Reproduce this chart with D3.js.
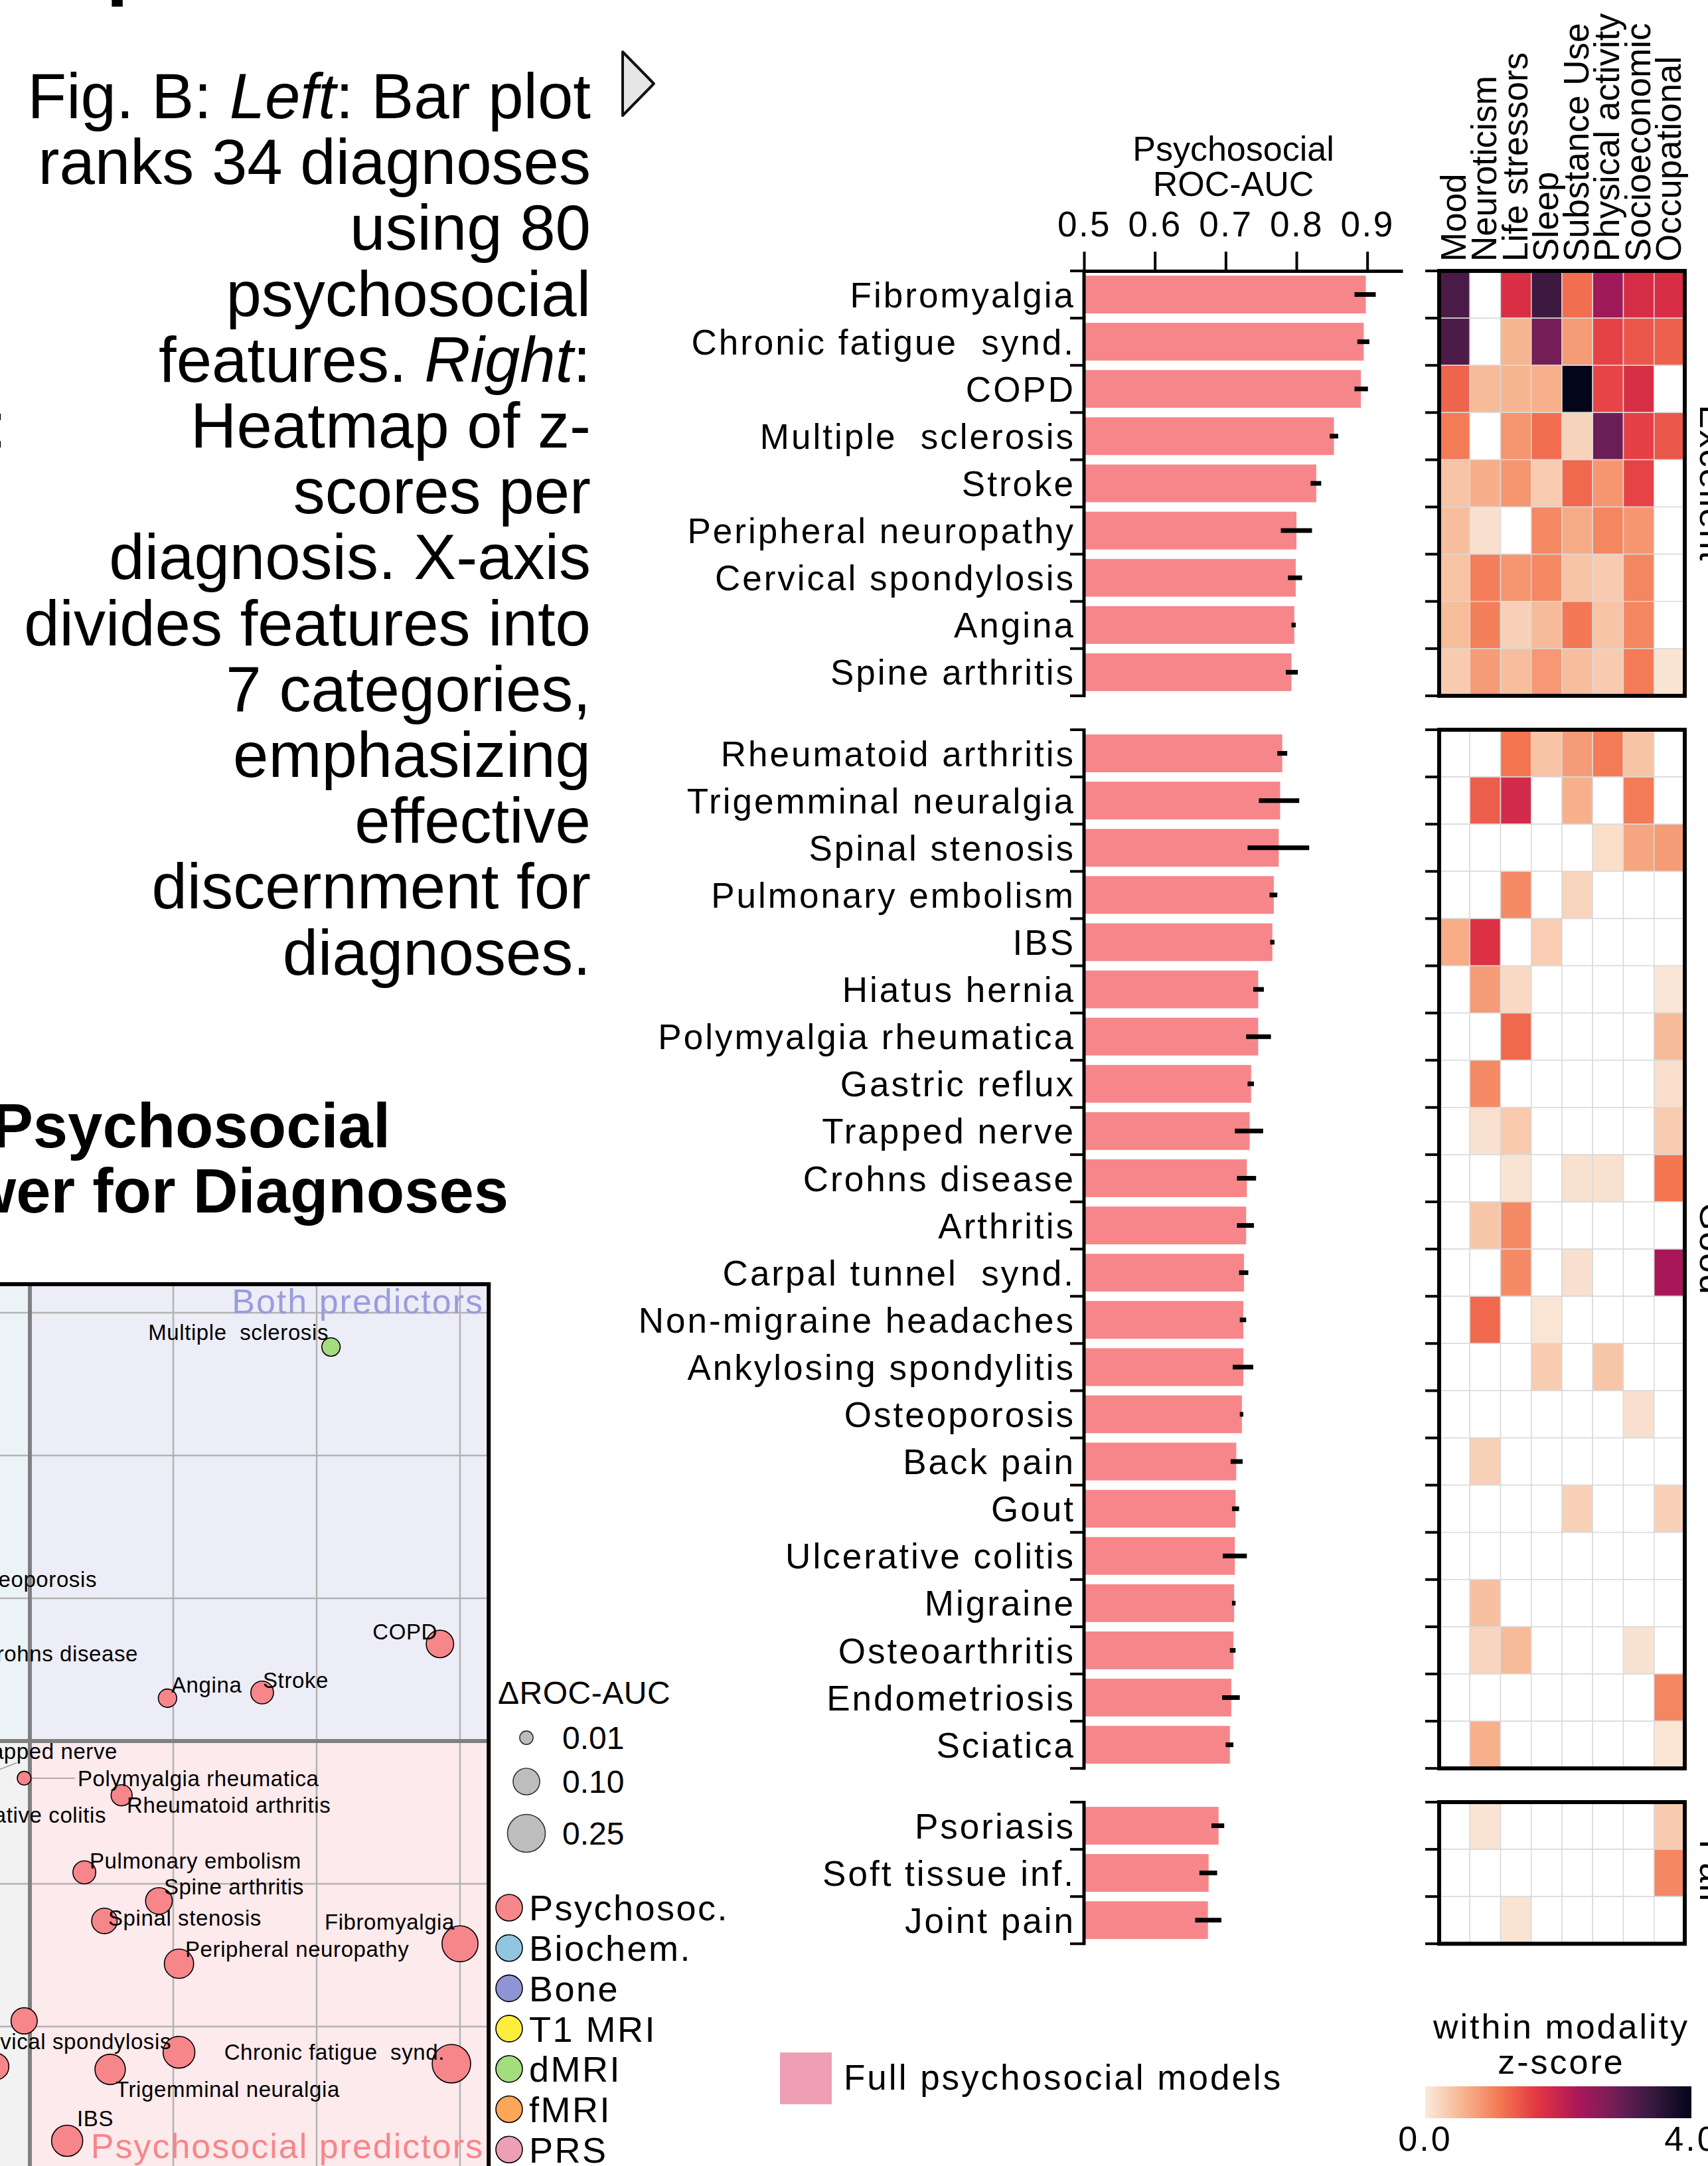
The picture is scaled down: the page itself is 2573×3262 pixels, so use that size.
<!DOCTYPE html>
<html><head><meta charset="utf-8">
<script src="https://cdn.jsdelivr.net/npm/d3@7"></script>
<style>
html,body{margin:0;padding:0;background:#fff;}
svg{display:block;}
text{font-family:'Liberation Sans',Arial,Helvetica,sans-serif;white-space:pre;}
</style></head>
<body>
<svg id="chart" width="2573" height="3262"></svg>
<script>
// ---------------- DATA ----------------
const groupNames = ["Excellent", "Good", "Fair"];
const group1 = ["Fibromyalgia","Chronic fatigue  synd.","COPD","Multiple  sclerosis","Stroke","Peripheral neuropathy","Cervical spondylosis","Angina","Spine arthritis"];
const group2 = ["Rheumatoid arthritis","Trigemminal neuralgia","Spinal stenosis","Pulmonary embolism","IBS","Hiatus hernia","Polymyalgia rheumatica","Gastric reflux","Trapped nerve","Crohns disease","Arthritis","Carpal tunnel  synd.","Non-migraine headaches","Ankylosing spondylitis","Osteoporosis","Back pain","Gout","Ulcerative colitis","Migraine","Osteoarthritis","Endometriosis","Sciatica"];
const group3 = ["Psoriasis","Soft tissue inf.","Joint pain"];

const auc1 = [0.898,0.895,0.891,0.853,0.828,0.800,0.799,0.797,0.793];
const lo1  = [0.882,0.886,0.882,0.847,0.820,0.778,0.788,0.793,0.785];
const hi1  = [0.912,0.903,0.901,0.859,0.835,0.822,0.808,0.799,0.802];
const auc2 = [0.780,0.777,0.775,0.768,0.766,0.746,0.746,0.736,0.734,0.730,0.729,0.726,0.725,0.725,0.723,0.715,0.714,0.713,0.712,0.711,0.708,0.706];
const lo2  = [0.773,0.747,0.731,0.762,0.763,0.739,0.729,0.731,0.713,0.716,0.716,0.719,0.720,0.710,0.720,0.707,0.709,0.696,0.709,0.706,0.695,0.700];
const hi2  = [0.787,0.804,0.818,0.773,0.769,0.754,0.764,0.740,0.753,0.743,0.740,0.732,0.729,0.739,0.725,0.724,0.719,0.730,0.714,0.714,0.720,0.711];
const auc3 = [0.690,0.676,0.675];
const lo3  = [0.680,0.663,0.657];
const hi3  = [0.698,0.688,0.694];

const xTicks = [0.5,0.6,0.7,0.8,0.9];

const featureCats = ["Mood","Neuroticism","Life stressors","Sleep","Substance Use","Physical activity","Socioeconomic","Occupational"];
const _ = null;
const z1 = [
 [3.22,_,1.80,3.34,1.20,2.41,1.84,1.82],
 [3.20,_,0.55,2.80,0.80,1.59,1.41,1.33],
 [1.30,0.50,0.55,0.60,4.00,1.57,1.80,_],
 [1.10,_,0.85,1.20,0.25,2.91,1.60,1.41],
 [0.40,0.62,0.85,0.32,1.25,0.85,1.58,_],
 [0.47,0.12,_,0.97,0.65,1.00,0.85,_],
 [0.42,1.07,0.85,0.97,0.40,0.33,1.00,_],
 [0.48,1.05,0.28,0.50,1.12,0.40,1.00,_],
 [0.33,0.80,0.47,0.83,0.47,0.33,1.10,0.08]
];
const z2 = [
 [_,_,1.14,0.40,0.80,1.10,0.40,_],
 [_,1.35,1.88,_,0.60,_,1.10,_],
 [_,_,_,_,_,0.14,0.70,0.80],
 [_,_,0.95,_,0.24,_,_,_],
 [0.64,1.77,_,0.31,_,_,_,_],
 [_,0.80,0.19,_,_,_,_,0.05],
 [_,_,1.25,_,_,_,_,0.50],
 [_,0.95,_,_,_,_,_,0.13],
 [_,0.10,0.35,_,_,_,_,0.32],
 [_,_,0.08,_,0.10,0.10,_,1.14],
 [_,0.38,0.95,_,_,_,_,_],
 [_,_,0.95,_,0.12,_,_,2.33],
 [_,1.25,_,0.06,_,_,_,_],
 [_,_,_,0.32,_,0.38,_,_],
 [_,_,_,_,_,_,0.11,_],
 [_,0.28,_,_,_,_,_,_],
 [_,_,_,_,0.27,_,_,0.27],
 [_,_,_,_,_,_,_,_],
 [_,0.45,_,_,_,_,_,_],
 [_,0.23,0.50,_,_,_,0.09,_],
 [_,_,_,_,_,_,_,1.00],
 [_,0.60,_,_,_,_,_,0.06]
];
const z3 = [
 [_,0.08,_,_,_,_,_,0.33],
 [_,_,_,_,_,_,_,0.98],
 [_,_,0.08,_,_,_,_,_]
];
const zDomain = [0, 4];
const rocketStops = [0, 0.571, 1.143, 1.714, 2.286, 2.857, 3.429, 4];
const rocketColors = ["#faebdd","#f6b48f","#f37651","#e13342","#ad1759","#701f57","#35193e","#03051a"];

// scatter: psychosocial ROC-AUC vs best non-psychosocial ROC-AUC
const scNames = ["Multiple  sclerosis","COPD","Stroke","Angina","Polymyalgia rheumatica","Rheumatoid arthritis","Pulmonary embolism","Spine arthritis","Spinal stenosis","Fibromyalgia","Peripheral neuropathy","Hiatus hernia","Cervical spondylosis","Gastric reflux","Chronic fatigue  synd.","Trigemminal neuralgia","IBS","Osteoporosis","Crohns disease","Trapped nerve","Ulcerative colitis"];
const scPsych = [0.855,0.893,0.831,0.798,0.748,0.782,0.769,0.795,0.776,0.900,0.802,0.748,0.802,0.738,0.897,0.778,0.763,0.723,0.730,0.734,0.713];
const scOther = [0.888,0.784,0.767,0.765,0.737,0.731,0.704,0.694,0.687,0.679,0.672,0.652,0.641,0.636,0.637,0.635,0.610,0.800,0.780,0.738,0.730];
const scModality = ["dMRI","Psychosoc.","Psychosoc.","Psychosoc.","Psychosoc.","Psychosoc.","Psychosoc.","Psychosoc.","Psychosoc.","Psychosoc.","Psychosoc.","Psychosoc.","Psychosoc.","Psychosoc.","Psychosoc.","Psychosoc.","Psychosoc.","Psychosoc.","Psychosoc.","Psychosoc.","Psychosoc."];
const modalities = ["Psychosoc.","Biochem.","Bone","T1 MRI","dMRI","fMRI","PRS"];
const modalityColors = ["#f7868a","#92c5de","#8f94d4","#fdee3c","#a3dd7e","#fca757","#ee9fb6"];
const sizeLegendValues = [0.01, 0.10, 0.25];
const sizeLegendLabels = ["0.01","0.10","0.25"];
const scGrid = [0.65,0.70,0.80,0.85,0.90];
const scThreshold = 0.75;

const captionLines = [
 [["Fig. B: ",false],["Left",true],[": Bar plot",false]],
 [["ranks 34 diagnoses",false]],
 [["using 80",false]],
 [["psychosocial",false]],
 [["features. ",false],["Right",true],[":",false]],
 [["Heatmap of z-",false]],
 [["scores per",false]],
 [["diagnosis. X-axis",false]],
 [["divides features into",false]],
 [["7 categories,",false]],
 [["emphasizing",false]],
 [["effective",false]],
 [["discernment for",false]],
 [["diagnoses.",false]]
];

// ---------------- LAYOUT ----------------
const svg = d3.select("#chart");
const FONT = "'Liberation Sans',Arial,Helvetica,sans-serif";

// caption
const cap = svg.append("g");
captionLines.forEach((segs,i)=>{
  const t = cap.append("text").attr("x",890).attr("y",178+i*99.2)
    .attr("text-anchor","end").attr("font-size",96).attr("fill","#000");
  segs.forEach(s=>t.append("tspan").text(s[0]).attr("font-style",s[1]?"italic":"normal"));
});
svg.append("text").attr("x",10).attr("y",178+5*99.2).attr("text-anchor","end").attr("font-size",96).text(":");
svg.append("text").attr("x",160).attr("y",-15).attr("font-size",120).attr("font-weight","bold").text("p");
svg.append("path").attr("d","M938,78 L985,126 L938,174 Z").attr("fill","#e6e6e6").attr("stroke","#111").attr("stroke-width",4).attr("stroke-linejoin","round");

// title fragments
svg.append("text").attr("x",588).attr("y",1728).attr("text-anchor","end").attr("font-size",94).attr("font-weight","bold").text("Psychosocial");
svg.append("text").attr("x",766).attr("y",1826).attr("text-anchor","end").attr("font-size",94).attr("font-weight","bold").text("Power for Diagnoses");

// ---------- BAR CHART ----------
const x = d3.scaleLinear().domain([0.5,0.95]).range([1633,2113]);
const STEP = 71.1;
const groupTops = [408, 1099, 2714];
const groups = [
  {names:group1, auc:auc1, lo:lo1, hi:hi1, z:z1},
  {names:group2, auc:auc2, lo:lo2, hi:hi2, z:z2},
  {names:group3, auc:auc3, lo:lo3, hi:hi3, z:z3}
];
groups.forEach((g,gi)=>{
  g.y = d3.scaleBand().domain(g.names).range([groupTops[gi], groupTops[gi]+g.names.length*STEP]);
});

const barColor = "#f7868a";
const hx = d3.scaleBand().domain(featureCats).range([2168,2538]);
const color = d3.scaleLinear().domain(rocketStops).range(rocketColors).interpolate(d3.interpolateRgb).clamp(true);

groups.forEach((g,gi)=>{
  const gg = svg.append("g");
  const bw = g.y.bandwidth();
  const rows = g.names.map((n,i)=>({n, v:g.auc[i], lo:g.lo[i], hi:g.hi[i], z:g.z[i]}));
  gg.selectAll("rect.bar").data(rows).join("rect")
    .attr("x",x(0.5)+2).attr("y",d=>g.y(d.n)+bw*0.1)
    .attr("width",d=>x(d.v)-x(0.5)-2).attr("height",bw*0.8).attr("fill",barColor);
  gg.selectAll("line.err").data(rows).join("line")
    .attr("x1",d=>x(d.lo)).attr("x2",d=>x(d.hi))
    .attr("y1",d=>g.y(d.n)+bw/2).attr("y2",d=>g.y(d.n)+bw/2)
    .attr("stroke","#000").attr("stroke-width",7);
  gg.selectAll("text.lab").data(rows).join("text")
    .attr("x",1620).attr("y",d=>g.y(d.n)+bw/2).attr("dy","0.36em")
    .attr("text-anchor","end").attr("font-size",53).attr("letter-spacing",3).text(d=>d.n);
  // y axis bracket
  const [y0,y1] = g.y.range();
  gg.append("line").attr("x1",x(0.5)).attr("x2",x(0.5)).attr("y1",y0-2).attr("y2",y1+2).attr("stroke","#000").attr("stroke-width",5);
  const bounds = g.names.map(n=>g.y(n)).concat([y1]);
  gg.selectAll("line.tk").data(bounds).join("line")
    .attr("x1",1612).attr("x2",x(0.5)).attr("y1",d=>d).attr("y2",d=>d).attr("stroke","#000").attr("stroke-width",4);

  // heatmap
  const hg = svg.append("g");
  const cells = [];
  rows.forEach(r=>r.z.forEach((v,j)=>cells.push({n:r.n, c:featureCats[j], v})));
  hg.selectAll("rect.cell").data(cells).join("rect")
    .attr("x",d=>hx(d.c)).attr("y",d=>g.y(d.n)).attr("width",hx.bandwidth()).attr("height",bw)
    .attr("fill",d=>d.v==null?"#ffffff":color(d.v)).attr("stroke","#d9d9d9").attr("stroke-width",1.5);
  hg.append("rect").attr("x",2168).attr("y",y0).attr("width",2538-2168).attr("height",y1-y0)
    .attr("fill","none").attr("stroke","#000").attr("stroke-width",6);
  hg.selectAll("line.tk").data(bounds).join("line")
    .attr("x1",2147).attr("x2",2168).attr("y1",d=>d).attr("y2",d=>d).attr("stroke","#000").attr("stroke-width",4);
  hg.append("text").attr("transform",`translate(2561,${(y0+y1)/2}) rotate(90)`)
    .attr("text-anchor","middle").attr("font-size",54).attr("letter-spacing",2).text(groupNames[gi]);
});

// top axis
const axG = svg.append("g").attr("transform","translate(0,408)");
axG.call(d3.axisTop(x).tickValues(xTicks).tickSize(29).tickSizeOuter(0).tickFormat(d3.format(".1f")));
axG.select(".domain").attr("stroke","#000").attr("stroke-width",5);
axG.selectAll(".tick line").attr("stroke","#000").attr("stroke-width",4);
axG.selectAll(".tick text").attr("font-size",53).attr("letter-spacing",2.5).attr("font-family",FONT).attr("fill","#000").attr("y",-52).attr("dy",0);
svg.append("text").attr("x",1858).attr("y",242).attr("text-anchor","middle").attr("font-size",52).text("Psychosocial");
svg.append("text").attr("x",1858).attr("y",295).attr("text-anchor","middle").attr("font-size",52).text("ROC-AUC");

// heatmap column labels
svg.selectAll("text.col").data(featureCats).join("text")
  .attr("transform",d=>`translate(${hx(d)+hx.bandwidth()/2+17},394) rotate(-90)`)
  .attr("font-size",53).text(d=>d);

// legend for bars
svg.append("rect").attr("x",1175).attr("y",3091).attr("width",78).attr("height",78).attr("fill","#ee9fb6");
svg.append("text").attr("x",1271).attr("y",3147).attr("font-size",53).attr("letter-spacing",3).text("Full psychosocial models");

// colorbar
const cbx = d3.scaleLinear().domain(zDomain).range([2147,2548]);
const grad = svg.append("defs").append("linearGradient").attr("id","rocket").attr("x1","0%").attr("x2","100%");
rocketStops.forEach(s=>grad.append("stop").attr("offset",(s/4*100)+"%").attr("stop-color",color(s)));
svg.append("rect").attr("x",cbx(0)).attr("y",3142).attr("width",cbx(4)-cbx(0)).attr("height",48).attr("fill","url(#rocket)");
svg.selectAll("text.cbt").data(zDomain).join("text").attr("x",d=>cbx(d)).attr("y",3239)
  .attr("text-anchor","middle").attr("font-size",52).attr("letter-spacing",3).text(d=>d.toFixed(1));
svg.append("text").attr("x",2352).attr("y",3070).attr("text-anchor","middle").attr("font-size",52).attr("letter-spacing",3).text("within modality");
svg.append("text").attr("x",2352).attr("y",3123).attr("text-anchor","middle").attr("font-size",52).attr("letter-spacing",3).text("z-score");

// ---------- SCATTER ----------
const sx = d3.scaleLinear().domain([0.75,0.90]).range([45,693]);
const sy = d3.scaleLinear().domain([0.75,0.90]).range([2622,1977]);
const rScale = d3.scalePow().exponent(0.5).domain([0,0.25]).range([5.5,28.5]);
const sTop = sy(0.91), sRight = sx(0.91);
const sg = svg.append("g");
sg.append("rect").attr("x",-400).attr("y",sTop).attr("width",sx(scThreshold)+400).attr("height",sy(scThreshold)-sTop).attr("fill","#ebf3f6");
sg.append("rect").attr("x",-400).attr("y",sy(scThreshold)).attr("width",sx(scThreshold)+400).attr("height",3262-sy(scThreshold)).attr("fill","#f2f2f2");
sg.append("rect").attr("x",sx(scThreshold)).attr("y",sTop).attr("width",sRight-sx(scThreshold)).attr("height",sy(scThreshold)-sTop).attr("fill","#ededf7");
sg.append("rect").attr("x",sx(scThreshold)).attr("y",sy(scThreshold)).attr("width",sRight-sx(scThreshold)).attr("height",3262-sy(scThreshold)).attr("fill","#fceaec");
sg.selectAll("line.gx").data(scGrid).join("line").attr("x1",d=>sx(d)).attr("x2",d=>sx(d)).attr("y1",sTop).attr("y2",3262).attr("stroke","#b3b3b3").attr("stroke-width",2.5);
sg.selectAll("line.gy").data(scGrid).join("line").attr("y1",d=>sy(d)).attr("y2",d=>sy(d)).attr("x1",-10).attr("x2",sRight).attr("stroke","#b3b3b3").attr("stroke-width",2.5);
sg.append("line").attr("x1",sx(scThreshold)).attr("x2",sx(scThreshold)).attr("y1",sTop).attr("y2",3262).attr("stroke","#808080").attr("stroke-width",6);
sg.append("line").attr("y1",sy(scThreshold)).attr("y2",sy(scThreshold)).attr("x1",-10).attr("x2",sRight).attr("stroke","#808080").attr("stroke-width",6);

sg.append("text").attr("x",729).attr("y",1978).attr("text-anchor","end").attr("font-size",52).attr("letter-spacing",2).attr("fill","#9a9cdc").text("Both predictors");
sg.append("text").attr("x",729).attr("y",3250).attr("text-anchor","end").attr("font-size",52).attr("letter-spacing",2).attr("fill","#f7868a").text("Psychosocial predictors");

const labelPos = {
 "Multiple  sclerosis":[495,2006,"end"], "COPD":[659,2457,"end"], "Stroke":[396,2530,"start"], "Angina":[258,2537,"start"],
 "Polymyalgia rheumatica":[117,2678,"start"], "Rheumatoid arthritis":[191,2718,"start"], "Pulmonary embolism":[135,2802,"start"],
 "Spine arthritis":[247,2841,"start"], "Spinal stenosis":[163,2888,"start"], "Fibromyalgia":[685,2894,"end"],
 "Peripheral neuropathy":[279,2935,"start"], "Cervical spondylosis":[258,3074,"end"], "Chronic fatigue  synd.":[670,3090,"end"],
 "Trigemminal neuralgia":[174,3146,"start"], "IBS":[116,3190,"start"], "Osteoporosis":[146,2378,"end"],
 "Crohns disease":[208,2490,"end"], "Trapped nerve":[177,2637,"end"], "Ulcerative colitis":[160,2733,"end"]
};
const connectors = {"Polymyalgia rheumatica":[113,2678], "Trapped nerve":[25,2655]};
const pts = scNames.map((n,i)=>({n, px:scPsych[i], py:scOther[i], m:scModality[i], d:Math.abs(scPsych[i]-scOther[i])}));
sg.selectAll("line.con").data(pts.filter(p=>connectors[p.n])).join("line")
  .attr("x1",p=>sx(p.px)).attr("y1",p=>sy(p.py)).attr("x2",p=>connectors[p.n][0]).attr("y2",p=>connectors[p.n][1])
  .attr("stroke","#999").attr("stroke-width",1.5);
sg.selectAll("circle.pt").data(pts).join("circle")
  .attr("cx",p=>sx(p.px)).attr("cy",p=>sy(p.py)).attr("r",p=>rScale(p.d))
  .attr("fill",p=>modalityColors[modalities.indexOf(p.m)]).attr("stroke","#000").attr("stroke-width",1.6);
sg.selectAll("text.sl").data(pts.filter(p=>labelPos[p.n])).join("text")
  .attr("x",p=>labelPos[p.n][0]).attr("y",p=>labelPos[p.n][1]).attr("dy","0.36em")
  .attr("text-anchor",p=>labelPos[p.n][2]).attr("font-size",33).attr("letter-spacing",0.6).text(p=>p.n);
// frame
sg.append("line").attr("x1",-10).attr("x2",sRight+3).attr("y1",sTop).attr("y2",sTop).attr("stroke","#000").attr("stroke-width",6);
sg.append("line").attr("x1",sRight).attr("x2",sRight).attr("y1",sTop).attr("y2",3270).attr("stroke","#000").attr("stroke-width",6);

// size legend
svg.append("text").attr("x",750).attr("y",2549).attr("dy","0.36em").attr("font-size",48).attr("letter-spacing",0.5).text("\u0394ROC-AUC");
const sizeY = [2617, 2683, 2761];
svg.selectAll("circle.sz").data(sizeLegendValues).join("circle")
  .attr("cx",793).attr("cy",(d,i)=>sizeY[i]).attr("r",d=>rScale(d)).attr("fill","#bdbdbd").attr("stroke","#333").attr("stroke-width",1.6);
svg.selectAll("text.sz").data(sizeLegendLabels).join("text")
  .attr("x",847).attr("y",(d,i)=>sizeY[i]).attr("dy","0.36em").attr("font-size",48).text(d=>d);

// modality legend
svg.selectAll("circle.mod").data(modalities).join("circle")
  .attr("cx",767).attr("cy",(d,i)=>2873+i*60.7).attr("r",20)
  .attr("fill",(d,i)=>modalityColors[i]).attr("stroke","#000").attr("stroke-width",1.6);
svg.selectAll("text.mod").data(modalities).join("text")
  .attr("x",797).attr("y",(d,i)=>2873+i*60.7).attr("dy","0.36em").attr("font-size",54).attr("letter-spacing",2.5).text(d=>d);
</script>
</body></html>
